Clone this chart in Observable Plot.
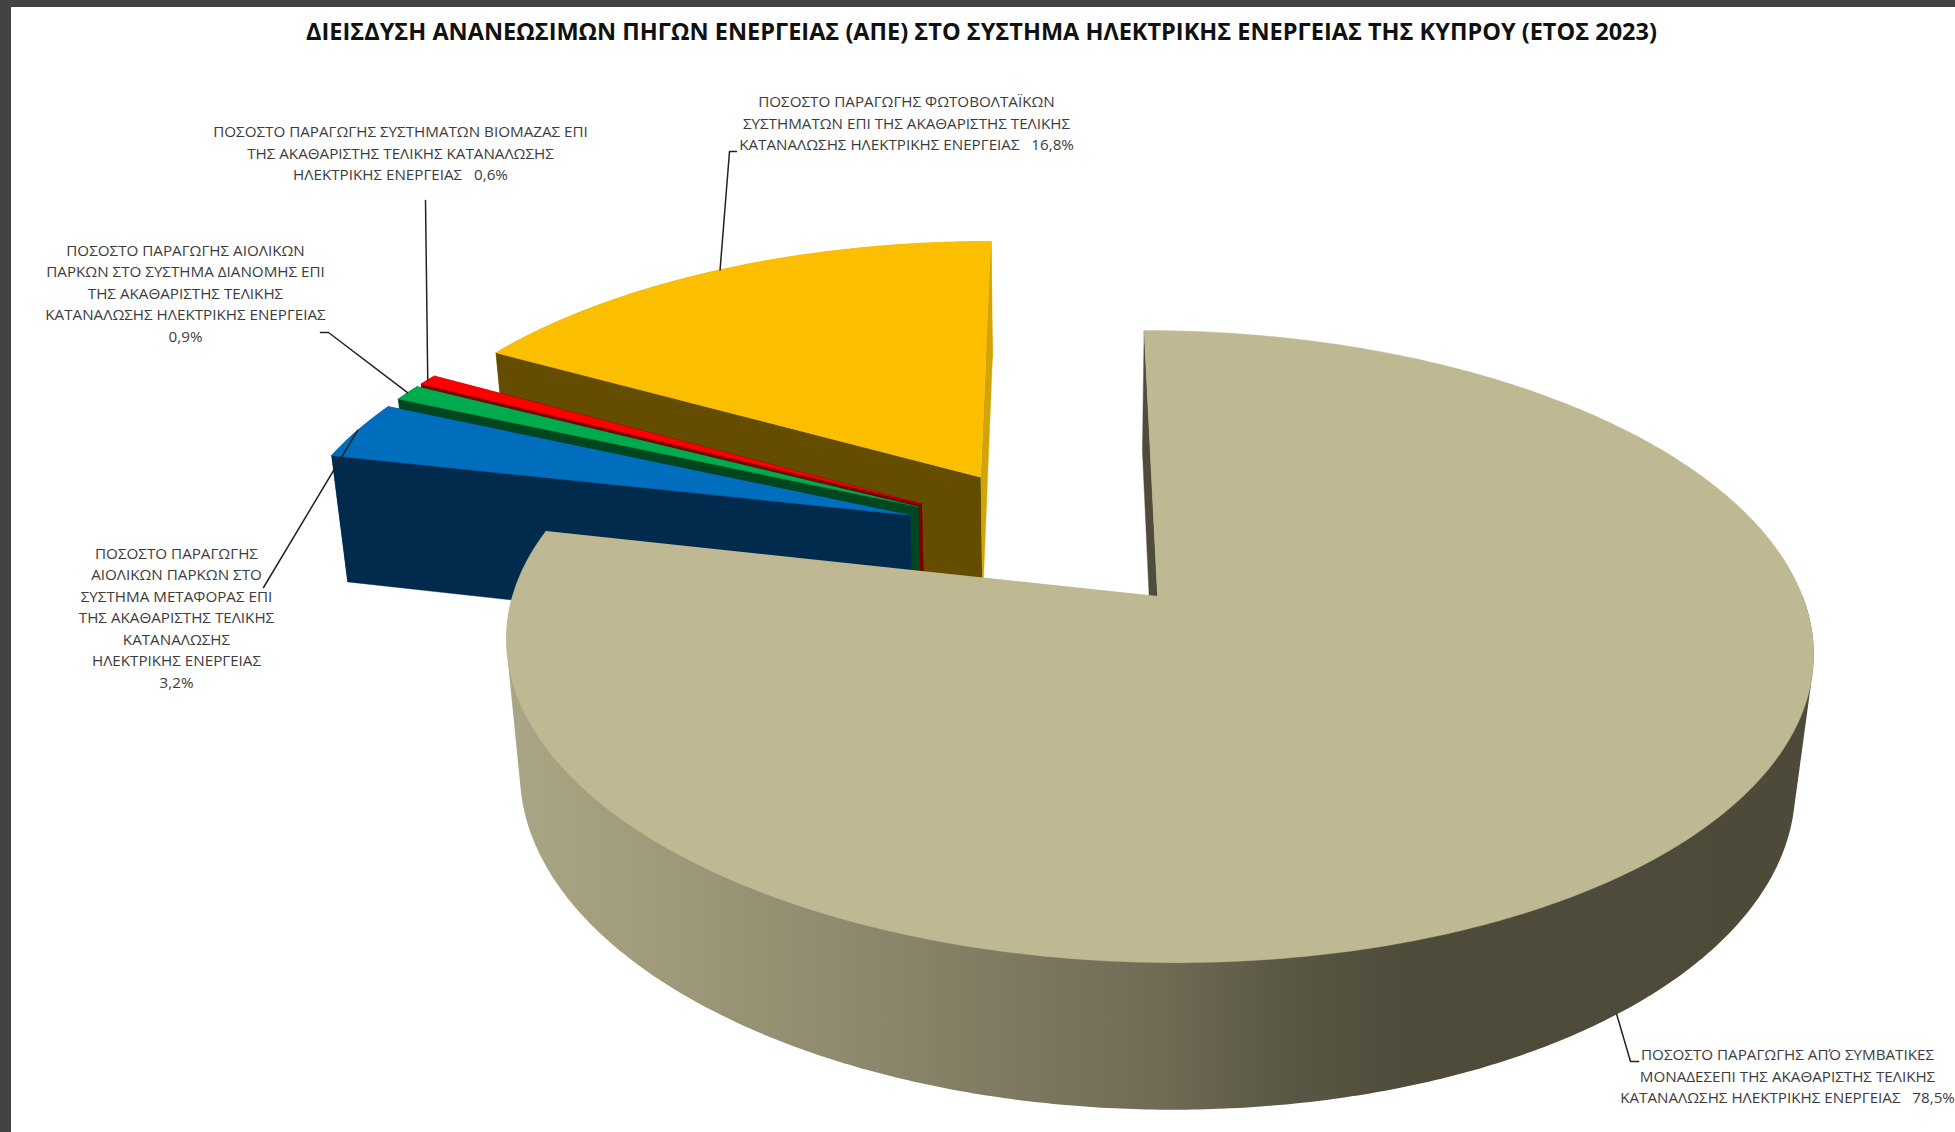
<!DOCTYPE html>
<html lang="el">
<head>
<meta charset="utf-8">
<title>Διείσδυση ΑΠΕ Κύπρος 2023</title>
<script src="https://cdn.jsdelivr.net/npm/d3@7"></script>
<script src="https://cdn.jsdelivr.net/npm/@observablehq/plot@0.6"></script>
<style>
html,body{margin:0;padding:0;background:#fff;overflow:hidden;width:1955px;height:1132px}
#frameTop{position:fixed;left:0;top:0;width:1955px;height:7px;background:#434343}
#frameLeft{position:fixed;left:0;top:0;width:11px;height:1132px;background:#434343}
#title{height:60px;width:1955px;box-sizing:border-box;padding-top:15px;text-align:center;padding-left:8px;
  font:700 23.53px/32px "Open Sans",sans-serif;color:#111;white-space:nowrap}
svg{display:block}
</style>
</head>
<body>
<div id="frameTop"></div><div id="frameLeft"></div>
<div id="title">ΔΙΕΙΣΔΥΣΗ ΑΝΑΝΕΩΣΙΜΩΝ ΠΗΓΩΝ ΕΝΕΡΓΕΙΑΣ (ΑΠΕ) ΣΤΟ ΣΥΣΤΗΜΑ ΗΛΕΚΤΡΙΚΗΣ ΕΝΕΡΓΕΙΑΣ ΤΗΣ ΚΥΠΡΟΥ (ΕΤΟΣ 2023)</div>
<div id="chart"></div>
<script>
// ---- data -----------------------------------------------------------
const keys   = ["conventional", "windTransmission", "windDistribution", "biomass", "solar"];
const shares = [78.5, 3.2, 0.9, 0.6, 16.8];
const labelLines = [
  ["ΠΟΣΟΣΤΟ ΠΑΡΑΓΩΓΗΣ ΑΠΌ ΣΥΜΒΑΤΙΚΕΣ", "ΜΟΝΑΔΕΣΕΠΙ ΤΗΣ ΑΚΑΘΑΡΙΣΤΗΣ ΤΕΛΙΚΗΣ", "ΚΑΤΑΝΑΛΩΣΗΣ ΗΛΕΚΤΡΙΚΗΣ ΕΝΕΡΓΕΙΑΣ"],
  ["ΠΟΣΟΣΤΟ ΠΑΡΑΓΩΓΗΣ", "ΑΙΟΛΙΚΩΝ ΠΑΡΚΩΝ ΣΤΟ", "ΣΥΣΤΗΜΑ ΜΕΤΑΦΟΡΑΣ ΕΠΙ", "ΤΗΣ ΑΚΑΘΑΡΙΣΤΗΣ ΤΕΛΙΚΗΣ", "ΚΑΤΑΝΑΛΩΣΗΣ", "ΗΛΕΚΤΡΙΚΗΣ ΕΝΕΡΓΕΙΑΣ", ""],
  ["ΠΟΣΟΣΤΟ ΠΑΡΑΓΩΓΗΣ ΑΙΟΛΙΚΩΝ", "ΠΑΡΚΩΝ ΣΤΟ ΣΥΣΤΗΜΑ ΔΙΑΝΟΜΗΣ ΕΠΙ", "ΤΗΣ ΑΚΑΘΑΡΙΣΤΗΣ ΤΕΛΙΚΗΣ", "ΚΑΤΑΝΑΛΩΣΗΣ ΗΛΕΚΤΡΙΚΗΣ ΕΝΕΡΓΕΙΑΣ", ""],
  ["ΠΟΣΟΣΤΟ ΠΑΡΑΓΩΓΗΣ ΣΥΣΤΗΜΑΤΩΝ ΒΙΟΜΑΖΑΣ ΕΠΙ", "ΤΗΣ ΑΚΑΘΑΡΙΣΤΗΣ ΤΕΛΙΚΗΣ ΚΑΤΑΝΑΛΩΣΗΣ", "ΗΛΕΚΤΡΙΚΗΣ ΕΝΕΡΓΕΙΑΣ"],
  ["ΠΟΣΟΣΤΟ ΠΑΡΑΓΩΓΗΣ ΦΩΤΟΒΟΛΤΑΪΚΩΝ", "ΣΥΣΤΗΜΑΤΩΝ ΕΠΙ ΤΗΣ ΑΚΑΘΑΡΙΣΤΗΣ ΤΕΛΙΚΗΣ", "ΚΑΤΑΝΑΛΩΣΗΣ ΗΛΕΚΤΡΙΚΗΣ ΕΝΕΡΓΕΙΑΣ"]
];

// ---- styles & layout ---------------------------------------------------
const topColors   = ["#bfb993", "#006dbd", "#00ab4e", "#fe0000", "#fcbf00"];
const wallColors  = ["#4f4c3b", "#002b4c", "#00461f", "#7d0000", "#644c00"];
const endColors   = ["#4f4c3b", "#004a80", "#00461f", "#7d0000", "#d3a408"];
const labelCenter = [1787, 176, 185, 400, 906];
const labelFirstY = [1055, 553.5, 250.5, 132, 102];
const labelStep   = 21.5;
const labelInline = [true, false, false, true, true];      // percentage on the last line or on its own
const elbowPoints = [
  [[1630, 1061], [1638, 1061]],
  [[263, 587]],
  [[328, 332], [320, 332]],
  [[425, 200]],
  [[729, 151], [736, 151]]
];

// ---- 3-D pie: perspective camera --------------------------------------
const cam = {xn: 1060, yc: 595.5, c: 97, a: 645, b: 308, d: 136, k: 0.16, m: 0.0243};
const explode = 0.25;
const project = (u, v, h) => {
  const w = 1 - cam.k * v + cam.m * h;
  return {x: cam.xn + (cam.a * u + cam.c) / w, y: cam.yc + (cam.b * v + cam.d * h) / w};
};
const rad = (deg) => deg * Math.PI / 180;

let cursor = 0;
const slices = shares.map((s, i) => {
  const start = cursor, end = cursor + s * 3.6;
  cursor = end;
  return {i, key: keys[i], share: s, start, end, mid: (start + end) / 2};
});
const dir = (deg) => [Math.sin(rad(deg)), -Math.cos(rad(deg))];
slices.forEach((s) => {
  const d = dir(s.mid), m = dir(slices[0].mid);
  s.ox = explode * (d[0] - m[0]);
  s.oy = explode * (d[1] - m[1]);
});
const rim   = (s, deg, h) => { const d = dir(deg); return project(s.ox + d[0], s.oy + d[1], h); };
const apex  = (s, h) => project(s.ox, s.oy, h);
const arc   = (s, h, a0 = s.start, a1 = s.end) => {
  const n = Math.max(6, Math.ceil((a1 - a0) * 2));
  return d3.range(n + 1).map((j) => rim(s, a0 + (a1 - a0) * j / n, h));
};
const topFace  = (s) => [apex(s, 0), ...arc(s, 0)];
const sideFace = (s) => [...arc(s, 0), ...arc(s, 1).reverse()];
const wallFace = (s, deg) => [apex(s, 0), rim(s, deg, 0), rim(s, deg, 1), apex(s, 1)];
// silhouette of the visible front of the cylinder (includes the tangent edges)
const frontHull = (s, a0, a1) => {
  const pts = [...arc(s, 0, a0, a1), ...arc(s, 1, a0, a1)];
  return d3.polygonHull(pts.map((p) => [p.x, p.y])).map(([x, y]) => ({x, y}));
};

const poly = (pts, color, strokeColor) =>
  Plot.line(pts, {x: "x", y: "y", fill: color, stroke: strokeColor || color, strokeWidth: 0.4});

const [main] = slices;
// back-to-front: solar, biomass, wind (distribution), wind (transmission), conventional
const drawOrder = [slices[4], slices[3], slices[2], slices[1]];
const sliceMarks = drawOrder.flatMap((s) => [
  poly(sideFace(s), endColors[s.i]),
  poly(wallFace(s, s.end), endColors[s.i]),
  poly(wallFace(s, s.start), wallColors[s.i]),
  poly(topFace(s), topColors[s.i])
]);
const mainMarks = [
  poly(frontHull(main, 90, 270), "url(#mainSide)", "none"),
  poly(wallFace(main, main.start), wallColors[0]),
  poly(topFace(main), topColors[0])
];

// ---- leaders and labels ------------------------------------------------
const leaderStart = (s) => s.i === 0 ? rim(s, s.mid, 1) : rim(s, s.mid, 0);
const leaders = slices.map((s) => [leaderStart(s), ...elbowPoints[s.i].map(([x, y]) => ({x, y}))]);
const pct = (v) => v.toFixed(1).replace(".", ",") + "%";
const labels = slices.flatMap((s) => {
  const lines = labelLines[s.i].slice();
  if (labelInline[s.i]) lines[lines.length - 1] += "   " + pct(s.share);
  else lines[lines.length - 1] = pct(s.share);
  return lines.map((text, j) => ({text, x: labelCenter[s.i], y: labelFirstY[s.i] + j * labelStep}));
});

const gradient = () => d3.create("svg:defs").html(`
  <linearGradient id="mainSide" x1="0" x2="1" y1="0" y2="0">
    <stop offset="0" stop-color="#a9a585"/>
    <stop offset="0.107" stop-color="#a09b7b"/>
    <stop offset="0.303" stop-color="#89856a"/>
    <stop offset="0.5" stop-color="#6f6b55"/>
    <stop offset="0.596" stop-color="#5a5744"/>
    <stop offset="0.694" stop-color="#4e4b3a"/>
    <stop offset="1" stop-color="#4d4a3a"/>
  </linearGradient>`).node();

const chart = Plot.plot({
  width: 1955,
  height: 1072,
  margin: 0,
  style: {background: "transparent", overflow: "visible"},
  x: {domain: [0, 1955], range: [0, 1955], axis: null},
  y: {domain: [60, 1132], range: [0, 1072], axis: null},
  marks: [
    gradient,
    ...sliceMarks,
    ...mainMarks,
    ...leaders.map((l) => Plot.line(l, {x: "x", y: "y", stroke: "#222", strokeWidth: 1.5})),
    Plot.text(labels, {
      x: "x", y: "y", text: "text",
      fontFamily: "'Open Sans', sans-serif", fontSize: 15.2, fill: "#3c3c3c",
      textAnchor: "middle", lineAnchor: "middle"
    })
  ]
});
document.getElementById("chart").append(chart);
</script>
</body>
</html>
